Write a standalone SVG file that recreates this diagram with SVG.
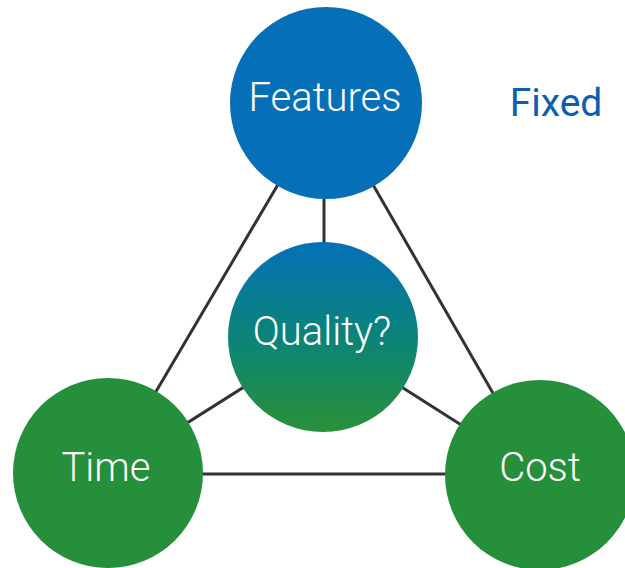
<svg xmlns="http://www.w3.org/2000/svg" width="625" height="568" viewBox="0 0 625 568">
<defs>
<linearGradient id="qg" x1="0" y1="0" x2="0" y2="1">
<stop offset="0" stop-color="#0570B8"/>
<stop offset="0.5" stop-color="#0A8478"/>
<stop offset="1" stop-color="#2A9038"/>
</linearGradient>
<style>
.ln{stroke:#333333;stroke-width:3;fill:none}
.lbl{font-family:Roboto,"Liberation Sans",sans-serif;font-size:40px;font-weight:300;fill:#ffffff;text-anchor:middle;dominant-baseline:central}
.blue{fill:#0570B8}
.green{fill:#268F3C}
</style>
</defs>
<rect width="625" height="568" fill="#ffffff"/>
<g id="connectors">
<line class="ln" x1="326" y1="103" x2="108" y2="473"/>
<line class="ln" x1="326" y1="103" x2="540" y2="475"/>
<line class="ln" x1="324" y1="103" x2="324" y2="337"/>
<line class="ln" x1="323" y1="337" x2="108" y2="473"/>
<line class="ln" x1="323" y1="337" x2="540" y2="475"/>
<line class="ln" x1="108" y1="474" x2="540" y2="474"/>
</g>
<g id="features">
<circle class="blue" cx="326" cy="103" r="96"/>
<text class="lbl" x="325" y="97">Features</text>
</g>
<g id="quality">
<circle fill="url(#qg)" cx="323" cy="337" r="95"/>
<text class="lbl" x="322" y="331">Quality?</text>
</g>
<g id="time">
<circle class="green" cx="108" cy="473" r="95"/>
<text class="lbl" x="106" y="467">Time</text>
</g>
<g id="cost">
<circle class="green" cx="540" cy="475" r="95"/>
<text class="lbl" x="540" y="467">Cost</text>
</g>
<g id="fixed">
<text x="556" y="103" font-family="Roboto,'Liberation Sans',sans-serif" font-size="39" fill="#0A5FB0" text-anchor="middle" dominant-baseline="central">Fixed</text>
</g>
</svg>
